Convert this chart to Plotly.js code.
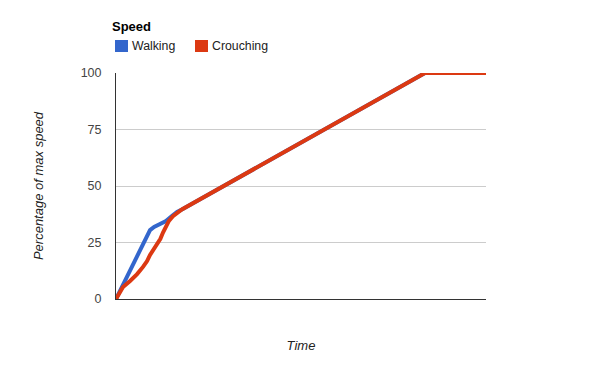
<!DOCTYPE html>
<html>
<head>
<meta charset="utf-8">
<script src="https://cdn.plot.ly/plotly-3.0.1.min.js"></script>
<style>html,body{margin:0;padding:0;background:#fff;}#chart{width:600px;height:371px;}</style>
</head>
<body>
<div id="chart"></div>
<script>
// Data (time in arbitrary units, speed in % of max)
const walkingTime = [0, 1.9, 3.8, 5.7, 6.8, 7.6, 8.4, 9.2, 10.3, 11.9, 13.5, 15.1, 16.5, 17.8, 83.5, 100];
const walkingSpeed = [0, 6.4, 12.8, 18.8, 22.6, 26.1, 28.8, 30.5, 31.9, 33.2, 34.5, 36.7, 38.5, 39.6, 100, 100];
const crouchingTime = [0, 1.9, 3.8, 5.7, 7.3, 8.4, 9.2, 10.2, 11.1, 12.0, 12.7, 13.5, 14.3, 15.4, 16.4, 17.8, 83.5, 100];
const crouchingSpeed = [0, 5.3, 8, 11, 14.2, 16.8, 19.5, 22.0, 24.0, 26.6, 29.4, 32.4, 34.6, 36.6, 37.9, 39.6, 100, 100];
const seriesNames = ['Walking', 'Crouching'];
const seriesColors = ['#3366cc', '#dc3912'];
const yTicks = [0, 25, 50, 75, 100];
const legendTitle = 'Speed';

const font = 'Arial, "Liberation Sans", sans-serif';

// plot area in pixels (for converting the legend's pixel placement into paper units)
const L = 116, R = 486, T = 73, B = 299;
const px = v => (v - L) / (R - L);
const py = v => (B - v) / (B - T);

const traces = [
  {x: walkingTime, y: walkingSpeed, type: 'scatter', mode: 'lines', name: seriesNames[0],
   line: {color: seriesColors[0], width: 4, shape: 'linear'}, showlegend: false, hoverinfo: 'skip'},
  {x: crouchingTime, y: crouchingSpeed, type: 'scatter', mode: 'lines', name: seriesNames[1],
   line: {color: seriesColors[1], width: 4, shape: 'linear'}, showlegend: false, hoverinfo: 'skip'}
];

const legendX = [115, 195];
const shapes = seriesColors.map((c, i) => ({
  type: 'rect', xref: 'paper', yref: 'paper',
  x0: px(legendX[i]), x1: px(legendX[i] + 13), y0: py(52), y1: py(40),
  fillcolor: c, line: {width: 0}
}));
const annotations = seriesNames.map((n, i) => ({
  text: n, xref: 'paper', yref: 'paper', x: px(legendX[i] + 15), y: py(46),
  xanchor: 'left', yanchor: 'middle', showarrow: false,
  font: {family: font, size: 12.3, color: '#222'}
}));
annotations.push({
  text: '<b>' + legendTitle + '</b>', xref: 'paper', yref: 'paper', x: px(110), y: py(27),
  xanchor: 'left', yanchor: 'middle', showarrow: false,
  font: {family: font, size: 13, color: '#000'}
});

const layout = {
  width: 600, height: 371,
  margin: {l: L, r: 600 - R, t: T, b: 371 - B},
  paper_bgcolor: '#fff', plot_bgcolor: '#fff',
  font: {family: font, size: 13, color: '#222'},
  showlegend: false,
  shapes: shapes,
  annotations: annotations,
  xaxis: {range: [0, 100], showticklabels: false, ticks: '', showgrid: false, zeroline: false,
          showline: true, linecolor: '#333', linewidth: 1,
          title: {text: '<i>Time</i>', font: {family: font, size: 13, color: '#222'}, standoff: 41}},
  yaxis: {range: [0, 100], tickvals: yTicks, ticktext: yTicks.map(String), ticks: '',
          showgrid: true, gridcolor: '#cccccc', gridwidth: 1, zeroline: false,
          showline: true, linecolor: '#333', linewidth: 1,
          tickfont: {family: font, size: 12.5, color: '#444'}, ticklabelstandoff: 11,
          title: {text: '<i>Percentage of max speed</i>', font: {family: font, size: 13, color: '#222'}, standoff: 34}}
};

Plotly.newPlot('chart', traces, layout, {displayModeBar: false, staticPlot: true});
</script>
</body>
</html>
